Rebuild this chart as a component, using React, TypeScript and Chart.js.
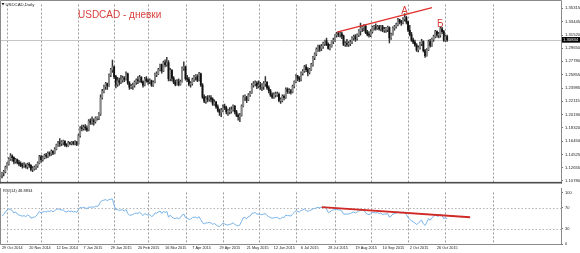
import React, { useEffect, useRef } from 'react';
import { Chart, registerables } from 'chart.js';
Chart.register(...registerables);

// ---------- DATA (USDCAD daily, 29 Oct 2014 .. 3 Nov 2015) ----------
const FIRST_OPEN = 1.116;
const HIGH = [
  1.1200, 1.1230, 1.1290,
  1.1340, 1.1410, 1.1467, 1.1450, 1.1420,
  1.1400, 1.1390, 1.1370, 1.1350, 1.1330,
  1.1340, 1.1320, 1.1330, 1.1340, 1.1310,
  1.1280, 1.1290, 1.1310, 1.1350, 1.1440,
  1.1440, 1.1430, 1.1460, 1.1470, 1.1490,
  1.1490, 1.1520, 1.1510, 1.1550, 1.1600,
  1.1640, 1.1680, 1.1650, 1.1660, 1.1650,
  1.1610, 1.1640, 1.1630, 1.1640,
  1.1640, 1.1650, 1.1640, 1.1740,
  1.1850, 1.1870, 1.1870, 1.1880, 1.1860,
  1.1950, 1.1960, 1.1990, 1.1960, 1.1990,
  1.1990, 1.2050, 1.2300, 1.2380, 1.2440,
  1.2480, 1.2470, 1.2600, 1.2680, 1.2795,
  1.2710, 1.2580, 1.2550, 1.2540, 1.2580,
  1.2570, 1.2560, 1.2630, 1.2610, 1.2490,
  1.2450, 1.2470, 1.2500, 1.2530, 1.2560,
  1.2580, 1.2560, 1.2500, 1.2550, 1.2560,
  1.2530, 1.2530, 1.2510, 1.2500, 1.2610,
  1.2630, 1.2680, 1.2740, 1.2740, 1.2780,
  1.2800, 1.2834, 1.2790, 1.2680, 1.2660,
  1.2560, 1.2510, 1.2520, 1.2530, 1.2510,
  1.2700, 1.2770, 1.2710, 1.2580, 1.2550,
  1.2490, 1.2540, 1.2580, 1.2590, 1.2590,
  1.2620, 1.2610, 1.2460, 1.2300, 1.2280,
  1.2290, 1.2290, 1.2290, 1.2260, 1.2230,
  1.2210, 1.2160, 1.2100, 1.2110, 1.2160,
  1.2170, 1.2140, 1.2100, 1.2120, 1.2130,
  1.2160, 1.2150, 1.2080, 1.2030, 1.2040,
  1.2160, 1.2290, 1.2300, 1.2280, 1.2320,
  1.2350, 1.2460, 1.2490, 1.2500, 1.2490,
  1.2500, 1.2480, 1.2460, 1.2490, 1.2560,
  1.2490, 1.2430, 1.2380, 1.2330, 1.2330,
  1.2340, 1.2340, 1.2330, 1.2260, 1.2300,
  1.2300, 1.2400, 1.2400, 1.2390, 1.2380,
  1.2440, 1.2500, 1.2590, 1.2580, 1.2560,
  1.2630, 1.2660, 1.2720, 1.2730, 1.2690,
  1.2680, 1.2750, 1.2850, 1.2900, 1.2970,
  1.3010, 1.3010, 1.3020, 1.3050, 1.3080,
  1.3110, 1.3040, 1.3020, 1.3070, 1.3110,
  1.3160, 1.3190, 1.3200, 1.3200, 1.3190,
  1.3150, 1.3060, 1.3090, 1.3060, 1.3080,
  1.3130, 1.3150, 1.3160, 1.3170, 1.3230,
  1.3320, 1.3290, 1.3300, 1.3290, 1.3220,
  1.3200, 1.3230, 1.3280, 1.3290, 1.3310,
  1.3290, 1.3290, 1.3290, 1.3290, 1.3260,
  1.3260, 1.3280, 1.3270, 1.3180, 1.3270,
  1.3290, 1.3320, 1.3390, 1.3380, 1.3360,
  1.3400, 1.3457, 1.3420, 1.3350, 1.3290,
  1.3190, 1.3110, 1.3080, 1.3030, 1.3000,
  1.3050, 1.3090, 1.3070, 1.2950, 1.2960,
  1.3080, 1.3090, 1.3110, 1.3150, 1.3220,
  1.3210, 1.3190, 1.3270, 1.3260, 1.3220,
  1.3150, 1.3150,
];
const LOW = [
  1.1120, 1.1150, 1.1190,
  1.1260, 1.1300, 1.1370, 1.1360, 1.1320,
  1.1330, 1.1320, 1.1290, 1.1280, 1.1260,
  1.1270, 1.1260, 1.1250, 1.1270, 1.1220,
  1.1210, 1.1230, 1.1240, 1.1270, 1.1320,
  1.1340, 1.1360, 1.1390, 1.1400, 1.1410,
  1.1430, 1.1440, 1.1450, 1.1460, 1.1520,
  1.1570, 1.1570, 1.1580, 1.1590, 1.1570,
  1.1560, 1.1570, 1.1590, 1.1590,
  1.1590, 1.1590, 1.1580, 1.1600,
  1.1700, 1.1790, 1.1800, 1.1800, 1.1780,
  1.1790, 1.1880, 1.1880, 1.1870, 1.1900,
  1.1940, 1.1950, 1.2010, 1.2240, 1.2330,
  1.2380, 1.2380, 1.2420, 1.2560, 1.2620,
  1.2530, 1.2400, 1.2420, 1.2440, 1.2460,
  1.2480, 1.2490, 1.2510, 1.2450, 1.2380,
  1.2390, 1.2380, 1.2410, 1.2450, 1.2460,
  1.2480, 1.2470, 1.2410, 1.2430, 1.2480,
  1.2450, 1.2460, 1.2420, 1.2420, 1.2470,
  1.2560, 1.2590, 1.2640, 1.2610, 1.2630,
  1.2700, 1.2710, 1.2500, 1.2500, 1.2500,
  1.2460, 1.2430, 1.2440, 1.2430, 1.2440,
  1.2480, 1.2650, 1.2510, 1.2490, 1.2430,
  1.2410, 1.2440, 1.2490, 1.2510, 1.2490,
  1.2500, 1.2420, 1.2250, 1.2190, 1.2180,
  1.2200, 1.2210, 1.2200, 1.2150, 1.2150,
  1.2110, 1.2060, 1.2010, 1.1990, 1.2060,
  1.2090, 1.2030, 1.2010, 1.2030, 1.2040,
  1.2070, 1.2030, 1.1990, 1.1940, 1.1920,
  1.2000, 1.2130, 1.2220, 1.2190, 1.2220,
  1.2280, 1.2320, 1.2410, 1.2430, 1.2390,
  1.2400, 1.2380, 1.2360, 1.2380, 1.2420,
  1.2380, 1.2330, 1.2280, 1.2250, 1.2250,
  1.2270, 1.2280, 1.2200, 1.2180, 1.2200,
  1.2230, 1.2250, 1.2320, 1.2320, 1.2310,
  1.2330, 1.2400, 1.2470, 1.2500, 1.2490,
  1.2500, 1.2580, 1.2620, 1.2630, 1.2570,
  1.2600, 1.2650, 1.2710, 1.2800, 1.2860,
  1.2920, 1.2920, 1.2930, 1.2960, 1.3000,
  1.3000, 1.2950, 1.2940, 1.2980, 1.3030,
  1.3060, 1.3120, 1.3130, 1.3120, 1.3100,
  1.3000, 1.2990, 1.2990, 1.2990, 1.3000,
  1.3030, 1.3080, 1.3060, 1.3080, 1.3130,
  1.3150, 1.3200, 1.3210, 1.3170, 1.3140,
  1.3120, 1.3130, 1.3180, 1.3220, 1.3220,
  1.3230, 1.3220, 1.3210, 1.3200, 1.3190,
  1.3190, 1.3200, 1.3040, 1.3090, 1.3150,
  1.3220, 1.3250, 1.3280, 1.3310, 1.3290,
  1.3310, 1.3350, 1.3310, 1.3200, 1.3140,
  1.3060, 1.3030, 1.2990, 1.2920, 1.2910,
  1.2950, 1.3000, 1.2910, 1.2832, 1.2850,
  1.2930, 1.2980, 1.2990, 1.3060, 1.3110,
  1.3120, 1.3110, 1.3120, 1.3170, 1.3060,
  1.3060, 1.3060,
];
const CLOSE = [
  1.1190, 1.1210, 1.1270,
  1.1320, 1.1390, 1.1430, 1.1410, 1.1350,
  1.1380, 1.1340, 1.1320, 1.1300, 1.1290,
  1.1300, 1.1280, 1.1310, 1.1300, 1.1240,
  1.1250, 1.1270, 1.1290, 1.1330, 1.1420,
  1.1380, 1.1410, 1.1440, 1.1430, 1.1470,
  1.1460, 1.1500, 1.1470, 1.1530, 1.1590,
  1.1620, 1.1610, 1.1630, 1.1640, 1.1590,
  1.1580, 1.1620, 1.1610, 1.1630,
  1.1610, 1.1630, 1.1600, 1.1720,
  1.1830, 1.1820, 1.1840, 1.1830, 1.1800,
  1.1930, 1.1910, 1.1930, 1.1920, 1.1970,
  1.1970, 1.2030, 1.2260, 1.2350, 1.2420,
  1.2460, 1.2430, 1.2580, 1.2660, 1.2700,
  1.2560, 1.2450, 1.2500, 1.2480, 1.2510,
  1.2540, 1.2520, 1.2600, 1.2470, 1.2410,
  1.2420, 1.2440, 1.2480, 1.2510, 1.2500,
  1.2550, 1.2490, 1.2440, 1.2530, 1.2500,
  1.2490, 1.2500, 1.2440, 1.2480, 1.2590,
  1.2600, 1.2660, 1.2730, 1.2640, 1.2760,
  1.2730, 1.2760, 1.2530, 1.2650, 1.2540,
  1.2480, 1.2450, 1.2490, 1.2450, 1.2490,
  1.2680, 1.2700, 1.2530, 1.2520, 1.2450,
  1.2460, 1.2520, 1.2560, 1.2560, 1.2510,
  1.2600, 1.2440, 1.2270, 1.2210, 1.2250,
  1.2240, 1.2260, 1.2240, 1.2170, 1.2200,
  1.2130, 1.2080, 1.2050, 1.2080, 1.2130,
  1.2120, 1.2060, 1.2060, 1.2070, 1.2090,
  1.2140, 1.2060, 1.2010, 1.1990, 1.2010,
  1.2140, 1.2270, 1.2270, 1.2230, 1.2300,
  1.2330, 1.2440, 1.2460, 1.2470, 1.2430,
  1.2430, 1.2420, 1.2420, 1.2460, 1.2480,
  1.2400, 1.2360, 1.2300, 1.2270, 1.2300,
  1.2300, 1.2310, 1.2220, 1.2220, 1.2280,
  1.2260, 1.2380, 1.2350, 1.2360, 1.2340,
  1.2420, 1.2490, 1.2570, 1.2540, 1.2520,
  1.2610, 1.2640, 1.2700, 1.2660, 1.2620,
  1.2660, 1.2730, 1.2830, 1.2880, 1.2950,
  1.2990, 1.2960, 1.2990, 1.3030, 1.3070,
  1.3020, 1.2960, 1.2990, 1.3060, 1.3080,
  1.3150, 1.3170, 1.3160, 1.3170, 1.3140,
  1.3020, 1.3030, 1.3020, 1.3030, 1.3050,
  1.3110, 1.3130, 1.3100, 1.3150, 1.3210,
  1.3250, 1.3260, 1.3280, 1.3190, 1.3160,
  1.3150, 1.3200, 1.3260, 1.3270, 1.3250,
  1.3270, 1.3240, 1.3270, 1.3220, 1.3230,
  1.3230, 1.3260, 1.3110, 1.3160, 1.3250,
  1.3270, 1.3300, 1.3370, 1.3340, 1.3330,
  1.3380, 1.3400, 1.3340, 1.3220, 1.3160,
  1.3080, 1.3050, 1.3010, 1.2940, 1.2970,
  1.3030, 1.3060, 1.2930, 1.2860, 1.2940,
  1.3060, 1.3000, 1.3090, 1.3130, 1.3200,
  1.3150, 1.3150, 1.3240, 1.3200, 1.3080,
  1.3130, 1.30834,
];
const RSI = [
  55, 57, 62,
  66, 68, 67, 65, 60,
  62, 58, 56, 55, 54,
  55, 53, 56, 55, 50,
  51, 52, 54, 58, 63,
  60, 62, 63, 62, 64,
  63, 65, 62, 65, 67,
  68, 67, 66, 66, 63,
  62, 64, 63, 64,
  62, 63, 61, 67,
  71, 70, 71, 70, 68,
  72, 71, 72, 71, 73,
  73, 75, 82, 84, 85,
  86, 84, 86, 87, 87,
  75, 66, 67, 65, 66,
  66, 64, 67, 59, 56,
  56, 57, 59, 60, 59,
  62, 58, 55, 59, 57,
  56, 57, 53, 55, 60,
  60, 62, 64, 59, 63,
  61, 63, 52, 56, 52,
  50, 49, 51, 49, 51,
  56, 58, 51, 50, 48,
  48, 51, 52, 52, 50,
  53, 47, 41, 39, 41,
  41, 42, 41, 38, 40,
  37, 35, 34, 37, 40,
  39, 37, 37, 38, 39,
  41, 38, 36, 35, 37,
  44, 51, 51, 49, 53,
  54, 59, 60, 61, 58,
  58, 57, 57, 58, 59,
  55, 53, 51, 50, 51,
  51, 52, 49, 49, 52,
  51, 56, 55, 55, 54,
  58, 61, 65, 63, 62,
  65, 66, 68, 65, 63,
  65, 66, 68, 69, 70,
  71, 70, 71, 71, 72,
  68, 61, 62, 65, 66,
  67, 67, 66, 66, 64,
  58, 58, 58, 58, 59,
  61, 62, 60, 62, 64,
  65, 65, 66, 60, 58,
  57, 59, 61, 61, 60,
  61, 59, 60, 57, 58,
  58, 59, 52, 54, 58,
  59, 60, 62, 61, 60,
  62, 61, 57, 51, 48,
  45, 43, 41, 38, 40,
  44, 46, 39, 36, 42,
  49, 46, 51, 53, 57,
  54, 54, 58, 55, 49,
  51, 48.8834,
];

const PRICE_TICKS = [1.35315, 1.33445, 1.3152, 1.2965, 1.2778, 1.25855, 1.23985, 1.22115, 1.2019, 1.1832, 1.1645, 1.14525, 1.12655, 1.1078];
const RSI_TICKS = [0, 30, 70, 100];
const RSI_LEVELS = [30, 70];
const DATE_LABELS = ['29 Oct 2014', '20 Nov 2014', '12 Dec 2014', '7 Jan 2015', '29 Jan 2015', '20 Feb 2015', '16 Mar 2015', '7 Apr 2015', '29 Apr 2015', '21 May 2015', '12 Jun 2015', '6 Jul 2015', '28 Jul 2015', '19 Aug 2015', '10 Sep 2015', '2 Oct 2015', '26 Oct 2015'];
const DATE_LABEL_BARS = [0, 16, 32, 48, 64, 80, 96, 112, 128, 144, 160, 176, 192, 208, 224, 240, 256];
const GRID_BARS = [3, 23, 45, 66, 86, 108, 130, 151, 173, 196, 217, 239, 261, 289];
const PRICE_TREND_BARS = [197.2, 253.1];
const PRICE_TREND_VALUES = [1.3193, 1.3541];
const RSI_TREND_BARS = [188.2, 275.5];
const RSI_TREND_VALUES = [71.3, 51.8];
const WAVE_LABELS = ['А', 'Б'];
const WAVE_BARS = [237, 258];
const TITLE = 'USDCAD - дневки';
const SYMBOL = 'USDCAD,Daily';

// ---------- LAYOUT / STYLE ----------
const X_MIN = -1.18;
const X_MAX = 329.0;
const PRICE_MIN = 1.10414;
const PRICE_MAX = 1.35856;
const AXIS_W = 19;
const SMALL_FONT = '"Liberation Sans", Arial, sans-serif';

const opens = CLOSE.map((c, i) => (i === 0 ? FIRST_OPEN : CLOSE[i - 1]));

function mainDecor() {
  return {
    id: 'mainDecor',
    beforeDatasetsDraw(chart: any) {
      const { ctx, chartArea: a, scales } = chart;
      const xs = scales.x, ys = scales.y;
      ctx.save();
      ctx.strokeStyle = '#9c9c9c';
      ctx.lineWidth = 1;
      ctx.setLineDash([2, 2]);
      GRID_BARS.forEach((b) => {
        const px = Math.round(xs.getPixelForValue(b)) + 0.5;
        ctx.beginPath();
        ctx.moveTo(px, a.top);
        ctx.lineTo(px, a.bottom);
        ctx.stroke();
      });
      ctx.setLineDash([]);
      const last = CLOSE[CLOSE.length - 1];
      const py = Math.round(ys.getPixelForValue(last)) + 0.5;
      ctx.strokeStyle = '#c6c6c6';
      ctx.beginPath();
      ctx.moveTo(a.left, py);
      ctx.lineTo(a.right, py);
      ctx.stroke();
      ctx.restore();
    },
    afterDraw(chart: any) {
      const { ctx, chartArea: a, scales } = chart;
      const xs = scales.x, ys = scales.y;
      ctx.save();
      ctx.strokeStyle = '#8a8a8a';
      ctx.lineWidth = 1;
      ctx.beginPath();
      ctx.moveTo(0.5, a.bottom);
      ctx.lineTo(0.5, 0.5);
      ctx.lineTo(a.right + 0.5, 0.5);
      ctx.lineTo(a.right + 0.5, a.bottom);
      ctx.stroke();
      ctx.fillStyle = '#4a4a4a';
      ctx.fillRect(0, a.bottom - 1.6, a.right + 1, 1.6);
      ctx.fillStyle = '#d8403c';
      ctx.font = '10px "Liberation Sans", Arial, sans-serif';
      ctx.textAlign = 'left';
      ctx.textBaseline = 'alphabetic';
      ctx.fillText(TITLE, 78, 18.3);
      ctx.fillStyle = '#222';
      ctx.beginPath();
      ctx.moveTo(1.5, 3);
      ctx.lineTo(4.5, 3);
      ctx.lineTo(3, 5.5);
      ctx.closePath();
      ctx.fill();
      ctx.font = '4.3px ' + SMALL_FONT;
      ctx.fillText(SYMBOL, 5.5, 5.8);
      ctx.fillStyle = '#d8403c';
      ctx.font = '10px "Liberation Sans", Arial, sans-serif';
      ctx.textAlign = 'center';
      WAVE_LABELS.forEach((t, i) => {
        const b = WAVE_BARS[i];
        ctx.fillText(t, xs.getPixelForValue(b), ys.getPixelForValue(HIGH[b]));
      });
      const last = CLOSE[CLOSE.length - 1];
      const py = ys.getPixelForValue(last);
      ctx.fillStyle = '#000';
      ctx.fillRect(a.right + 1, py - 2.8, AXIS_W - 1, 5.6);
      ctx.fillStyle = '#fff';
      ctx.font = '4.2px ' + SMALL_FONT;
      ctx.textAlign = 'left';
      ctx.textBaseline = 'middle';
      ctx.fillText(last.toFixed(5), a.right + 2, py + 0.2);
      ctx.restore();
    },
  };
}

function rsiDecor() {
  return {
    id: 'rsiDecor',
    beforeDatasetsDraw(chart: any) {
      const { ctx, chartArea: a, scales } = chart;
      const xs = scales.x, ys = scales.y;
      ctx.save();
      ctx.strokeStyle = '#9c9c9c';
      ctx.lineWidth = 1;
      ctx.setLineDash([2, 2]);
      GRID_BARS.forEach((b) => {
        const px = Math.round(xs.getPixelForValue(b)) + 0.5;
        ctx.beginPath();
        ctx.moveTo(px, a.top);
        ctx.lineTo(px, a.bottom);
        ctx.stroke();
      });
      ctx.strokeStyle = '#b4b4b4';
      ctx.setLineDash([1.5, 2]);
      RSI_LEVELS.forEach((v) => {
        const py = Math.round(ys.getPixelForValue(v)) + 0.5;
        ctx.beginPath();
        ctx.moveTo(a.left, py);
        ctx.lineTo(a.right, py);
        ctx.stroke();
      });
      ctx.restore();
    },
    afterDraw(chart: any) {
      const { ctx, chartArea: a } = chart;
      ctx.save();
      ctx.strokeStyle = '#8a8a8a';
      ctx.lineWidth = 1;
      ctx.beginPath();
      ctx.moveTo(0.5, 0);
      ctx.lineTo(0.5, a.bottom + 0.5);
      ctx.lineTo(a.right + 0.5, a.bottom + 0.5);
      ctx.lineTo(a.right + 0.5, 0);
      ctx.stroke();
      ctx.fillStyle = '#222';
      ctx.font = '4px ' + SMALL_FONT;
      ctx.textAlign = 'left';
      ctx.textBaseline = 'middle';
      ctx.fillText('RSI(14) ' + RSI[RSI.length - 1].toFixed(4), 3, 3.2);
      ctx.restore();
    },
  };
}

export default function App() {
  const mainRef = useRef<HTMLCanvasElement>(null);
  const rsiRef = useRef<HTMLCanvasElement>(null);

  useEffect(() => {
    const bars = CLOSE.map((_, i) => i);
    const wickData = bars.map((i) => ({ x: i, y: [LOW[i], HIGH[i]] }));
    const bodyData = bars.map((i) => ({ x: i, y: [opens[i], CLOSE[i]] }));
    const bodyColors = bars.map((i) => (CLOSE[i] >= opens[i] ? '#8a8a8a' : '#111111'));
    const trendData = PRICE_TREND_BARS.map((x, i) => ({ x, y: PRICE_TREND_VALUES[i] }));

    const main = new Chart(mainRef.current as HTMLCanvasElement, {
      type: 'bar',
      data: {
        datasets: [
          { type: 'line', data: trendData as any, borderColor: '#e0302c', borderWidth: 1.3, pointRadius: 0, fill: false, order: 0 } as any,
          { type: 'bar', data: bodyData as any, backgroundColor: bodyColors, barThickness: 1.2, grouped: false, minBarLength: 1, order: 1 } as any,
          { type: 'bar', data: wickData as any, backgroundColor: '#333333', barThickness: 0.8, grouped: false, order: 2 } as any,
        ],
      },
      options: {
        responsive: false,
        animation: false,
        devicePixelRatio: 1,
        events: [],
        layout: { padding: 0 },
        plugins: { legend: { display: false }, tooltip: { enabled: false }, title: { display: false } },
        scales: {
          x: {
            type: 'linear', min: X_MIN, max: X_MAX, offset: false,
            grid: { display: false }, border: { display: false },
            ticks: { display: false },
            afterFit: (s: any) => { s.height = 0; },
          },
          y: {
            type: 'linear', position: 'right', min: PRICE_MIN, max: PRICE_MAX, beginAtZero: false,
            grid: { drawOnChartArea: false, drawTicks: true, tickLength: 2, color: '#777' },
            border: { display: false },
            ticks: {
              font: { size: 4.2, family: SMALL_FONT }, color: '#222', padding: 2, crossAlign: 'near',
              callback: (v: any) => Number(v).toFixed(5),
            },
            afterBuildTicks: (s: any) => { s.ticks = PRICE_TICKS.map((value) => ({ value })); },
            afterFit: (s: any) => { s.width = AXIS_W; },
          },
        },
      } as any,
      plugins: [mainDecor()],
    });

    const rsiData = RSI.map((v, i) => ({ x: i, y: v }));
    const rsiTrend = RSI_TREND_BARS.map((x, i) => ({ x, y: RSI_TREND_VALUES[i] }));
    const rsi = new Chart(rsiRef.current as HTMLCanvasElement, {
      type: 'line',
      data: {
        datasets: [
          { data: rsiTrend as any, borderColor: '#d02a26', borderWidth: 1.8, pointRadius: 0, fill: false, order: 0 },
          { data: rsiData as any, borderColor: '#78b2e8', borderWidth: 1, pointRadius: 0, fill: false, tension: 0, order: 1 },
        ],
      },
      options: {
        responsive: false,
        animation: false,
        devicePixelRatio: 1,
        events: [],
        layout: { padding: 0 },
        plugins: { legend: { display: false }, tooltip: { enabled: false } },
        scales: {
          x: {
            type: 'linear', min: X_MIN, max: X_MAX, offset: false,
            grid: { display: false, drawTicks: false }, border: { display: false },
            ticks: {
              font: { size: 3.8, family: SMALL_FONT }, color: '#222', padding: 2,
              align: 'start', maxRotation: 0, autoSkip: false,
              callback: (v: any) => { const k = DATE_LABEL_BARS.indexOf(Number(v)); return k >= 0 ? DATE_LABELS[k] : ''; },
            },
            afterBuildTicks: (s: any) => { s.ticks = DATE_LABEL_BARS.map((value) => ({ value })); },
            afterFit: (s: any) => { s.height = 9; },
          },
          y: {
            type: 'linear', position: 'right', min: 0, max: 100,
            grid: { drawOnChartArea: false, drawTicks: true, tickLength: 2, color: '#777' },
            border: { display: false },
            ticks: { font: { size: 4, family: SMALL_FONT }, color: '#222', padding: 2, crossAlign: 'near' },
            afterBuildTicks: (s: any) => { s.ticks = RSI_TICKS.map((value) => ({ value })); },
            afterFit: (s: any) => { s.width = AXIS_W; },
          },
        },
      } as any,
      plugins: [rsiDecor()],
    });

    return () => { main.destroy(); rsi.destroy(); };
  }, []);

  return (
    <div style={{ position: 'absolute', left: 0, top: 0, width: 580, height: 253, background: '#fff' }}>
      <canvas ref={mainRef} width={580} height={188} style={{ position: 'absolute', left: 0, top: 0, width: 580, height: 188 }} />
      <canvas ref={rsiRef} width={580} height={65} style={{ position: 'absolute', left: 0, top: 188, width: 580, height: 65 }} />
    </div>
  );
}
